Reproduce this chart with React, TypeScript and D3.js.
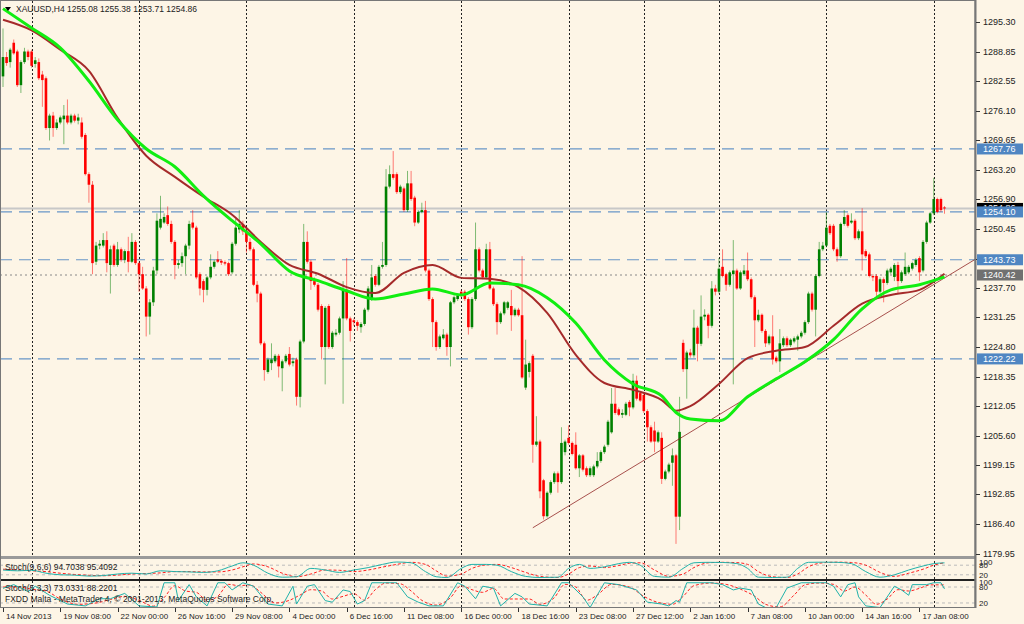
import * as d3 from "d3";

// ---- price data, H4 bars (index 0 = 14 Nov 2013) ----
const opens = [
  1283.5, 1287.7, 1286.6, 1290.8, 1288.9, 1281.6, 1286.6, 1288.9, 1288.9, 1286.2,
  1286.6, 1283.9, 1283.1, 1272.3, 1275.0, 1272.3, 1273.5, 1274.2, 1275.0, 1273.5,
  1275.0, 1273.9, 1273.5, 1270.8, 1262.3, 1260.0, 1243.3, 1246.8, 1246.8, 1248.0,
  1242.6, 1246.8, 1242.6, 1246.0, 1243.7, 1245.6, 1243.3, 1247.6, 1243.0, 1240.6,
  1237.5, 1231.4, 1234.5, 1241.4, 1250.7, 1251.8, 1253.4, 1251.5, 1247.6, 1242.6,
  1243.0, 1244.5, 1246.8, 1251.8, 1250.7, 1240.6, 1239.1, 1237.2, 1239.9, 1242.2,
  1243.8, 1243.5, 1243.2, 1243.0, 1241.0, 1247.2, 1250.3, 1251.5, 1249.9, 1247.6,
  1246.0, 1238.3, 1236.4, 1225.6, 1219.4, 1221.3, 1221.7, 1222.9, 1220.2, 1221.7,
  1223.3, 1221.3, 1222.1, 1214.0, 1226.0, 1247.6, 1243.3, 1239.1, 1238.3, 1233.7,
  1224.8, 1233.7, 1224.8, 1227.5, 1227.9, 1231.0, 1237.2, 1231.0, 1230.6, 1230.2,
  1229.1, 1229.8, 1232.9, 1235.2, 1240.2, 1238.3, 1242.2, 1242.6, 1259.6, 1262.3,
  1262.3, 1258.4, 1259.2, 1254.5, 1260.3, 1257.2, 1251.8, 1254.1, 1254.5, 1241.4,
  1235.2, 1230.2, 1224.8, 1226.7, 1227.5, 1224.8, 1234.5, 1235.2, 1236.8, 1236.8,
  1235.2, 1229.1, 1235.2, 1246.0, 1241.4, 1239.9, 1246.0, 1237.5, 1234.1, 1230.2,
  1232.1, 1233.3, 1233.7, 1231.7, 1232.9, 1231.7, 1216.0, 1219.4, 1222.9, 1203.6,
  1204.3, 1195.9, 1188.1, 1193.2, 1195.5, 1197.4, 1195.5, 1202.0, 1205.1, 1204.0,
  1203.6, 1198.5, 1201.3, 1198.5, 1197.0, 1197.0, 1198.9, 1200.1, 1202.0, 1203.6,
  1206.3, 1212.5, 1211.3, 1210.1, 1210.1, 1212.9, 1211.7, 1217.5, 1214.8, 1214.4,
  1210.9, 1207.4, 1206.7, 1204.3, 1205.1, 1196.2, 1197.8, 1199.7, 1201.3, 1188.0,
  1225.7, 1220.0, 1223.6, 1223.0, 1229.0, 1225.5, 1231.4, 1231.8, 1229.4, 1237.5,
  1236.8, 1242.2, 1240.6, 1238.3, 1240.6, 1241.4, 1237.5, 1240.6, 1241.4, 1239.5,
  1235.6, 1230.6, 1231.8, 1228.3, 1225.6, 1227.1, 1222.5, 1221.7, 1225.2, 1226.7,
  1225.2, 1226.0, 1226.4, 1227.1, 1227.9, 1230.2, 1236.4, 1232.9, 1240.2, 1246.0,
  1246.8, 1251.1, 1251.1, 1246.0, 1244.5, 1251.5, 1253.4, 1251.8, 1252.2, 1248.4,
  1249.9, 1245.6, 1244.9, 1240.2, 1240.2, 1236.8, 1239.5, 1238.7, 1241.0, 1240.0,
  1242.6, 1239.1, 1240.6, 1241.0, 1241.8, 1242.6, 1244.1, 1241.4, 1247.6, 1251.8,
  1253.8, 1256.9, 1256.9, 1255.08,
];
const highs = [
  1293.9, 1288.8, 1289.7, 1291.5, 1289.3, 1287.0, 1289.7, 1289.3, 1289.3, 1287.7,
  1287.4, 1284.7, 1283.5, 1275.4, 1275.8, 1274.2, 1275.0, 1277.3, 1278.5, 1275.4,
  1275.4, 1275.4, 1274.6, 1271.2, 1262.7, 1260.8, 1247.6, 1248.0, 1249.5, 1249.9,
  1246.8, 1247.2, 1247.6, 1246.4, 1246.0, 1248.7, 1249.5, 1248.0, 1243.3, 1242.2,
  1238.0, 1235.2, 1242.2, 1253.8, 1257.6, 1253.8, 1255.3, 1252.2, 1248.0, 1243.7,
  1245.3, 1247.2, 1252.2, 1254.5, 1251.1, 1241.0, 1239.5, 1240.2, 1244.9, 1243.7,
  1245.6, 1243.9, 1243.6, 1243.3, 1247.6, 1252.6, 1254.5, 1252.2, 1250.7, 1248.4,
  1246.4, 1239.1, 1236.8, 1226.0, 1222.5, 1225.6, 1223.3, 1223.3, 1222.1, 1223.3,
  1224.8, 1222.5, 1222.5, 1226.4, 1251.5, 1249.9, 1243.7, 1239.9, 1238.7, 1234.1,
  1233.7, 1234.1, 1228.3, 1228.7, 1231.4, 1239.1, 1244.1, 1231.4, 1231.0, 1230.6,
  1230.2, 1233.3, 1238.0, 1242.6, 1240.6, 1242.6, 1247.6, 1263.4, 1264.2, 1267.3,
  1262.7, 1260.0, 1259.6, 1263.0, 1263.0, 1257.6, 1254.5, 1256.1, 1256.5, 1241.8,
  1235.6, 1230.6, 1227.5, 1228.7, 1227.9, 1234.8, 1236.0, 1236.4, 1237.2, 1237.2,
  1235.6, 1235.6, 1251.8, 1246.4, 1241.8, 1247.2, 1247.6, 1237.9, 1234.5, 1232.5,
  1234.8, 1234.8, 1237.2, 1233.3, 1233.3, 1244.5, 1226.4, 1221.7, 1223.3, 1209.8,
  1204.7, 1196.2, 1193.5, 1195.9, 1197.8, 1197.8, 1207.4, 1204.7, 1207.8, 1204.3,
  1206.3, 1201.6, 1201.6, 1198.9, 1198.9, 1199.3, 1202.0, 1202.4, 1203.6, 1209.0,
  1215.9, 1215.9, 1211.7, 1211.3, 1212.9, 1213.3, 1219.0, 1218.6, 1215.2, 1214.8,
  1211.3, 1207.8, 1208.6, 1206.7, 1206.3, 1198.2, 1199.7, 1202.8, 1201.6, 1214.0,
  1226.4, 1224.0, 1224.4, 1232.9, 1229.4, 1236.0, 1233.0, 1232.1, 1239.1, 1238.3,
  1244.1, 1246.0, 1240.9, 1241.4, 1248.0, 1241.8, 1241.4, 1242.6, 1245.3, 1239.9,
  1236.0, 1232.9, 1232.1, 1228.7, 1227.5, 1231.7, 1222.9, 1228.7, 1227.1, 1227.1,
  1226.7, 1227.1, 1227.5, 1228.3, 1230.6, 1236.8, 1236.8, 1240.6, 1247.6, 1247.6,
  1254.1, 1251.5, 1251.5, 1246.4, 1251.8, 1254.5, 1253.8, 1253.8, 1252.6, 1250.3,
  1254.9, 1246.0, 1245.3, 1240.6, 1240.6, 1239.9, 1239.9, 1241.8, 1242.2, 1243.0,
  1243.3, 1241.4, 1245.3, 1242.6, 1243.3, 1244.1, 1244.5, 1248.0, 1252.2, 1254.1,
  1261.5, 1257.2, 1257.2, 1255.38,
];
const lows = [
  1281.2, 1285.8, 1285.4, 1288.2, 1281.2, 1279.9, 1286.2, 1287.0, 1285.4, 1285.4,
  1282.7, 1276.9, 1271.9, 1269.6, 1270.4, 1271.9, 1273.1, 1268.8, 1273.1, 1273.1,
  1273.5, 1273.1, 1270.0, 1262.0, 1256.1, 1240.6, 1242.6, 1246.0, 1246.4, 1241.0,
  1236.4, 1242.2, 1242.2, 1243.3, 1243.0, 1241.0, 1243.0, 1242.6, 1236.8, 1237.2,
  1227.1, 1227.5, 1233.7, 1240.6, 1250.3, 1251.5, 1251.1, 1247.2, 1239.5, 1241.8,
  1242.2, 1240.6, 1246.0, 1250.3, 1239.5, 1236.0, 1234.5, 1236.0, 1239.5, 1241.8,
  1243.0, 1242.6, 1242.5, 1240.2, 1240.6, 1246.8, 1249.5, 1249.1, 1245.3, 1245.6,
  1238.0, 1234.5, 1225.2, 1217.5, 1219.0, 1219.8, 1221.3, 1218.2, 1215.2, 1221.3,
  1220.6, 1220.6, 1212.1, 1211.7, 1225.6, 1242.9, 1237.2, 1237.9, 1232.5, 1222.1,
  1216.7, 1224.4, 1224.4, 1227.1, 1227.5, 1212.5, 1230.6, 1226.0, 1229.4, 1228.3,
  1227.9, 1229.4, 1232.5, 1234.8, 1237.9, 1238.0, 1241.8, 1242.2, 1259.2, 1261.1,
  1258.0, 1258.0, 1254.1, 1254.1, 1256.5, 1251.0, 1251.5, 1253.8, 1241.0, 1234.8,
  1224.8, 1224.0, 1224.4, 1226.4, 1222.9, 1220.6, 1234.1, 1234.8, 1235.6, 1234.8,
  1227.5, 1228.7, 1234.8, 1241.0, 1239.5, 1239.5, 1237.2, 1233.7, 1227.5, 1229.8,
  1231.7, 1232.9, 1228.3, 1231.4, 1231.4, 1217.9, 1215.5, 1218.2, 1199.7, 1203.2,
  1192.0, 1187.4, 1187.8, 1192.8, 1195.1, 1193.2, 1195.1, 1201.3, 1203.6, 1201.3,
  1198.2, 1196.6, 1197.8, 1196.6, 1196.6, 1196.6, 1198.5, 1199.7, 1201.6, 1203.2,
  1206.0, 1210.1, 1209.8, 1209.4, 1209.8, 1209.8, 1211.3, 1213.2, 1212.9, 1210.5,
  1204.3, 1204.0, 1202.0, 1204.0, 1195.1, 1195.9, 1197.4, 1194.7, 1182.1, 1185.1,
  1219.4, 1213.6, 1222.5, 1222.5, 1221.7, 1225.0, 1230.6, 1226.7, 1229.0, 1236.0,
  1236.4, 1239.9, 1237.0, 1237.9, 1216.7, 1237.2, 1237.2, 1240.2, 1239.1, 1235.2,
  1224.8, 1230.2, 1227.9, 1224.8, 1225.2, 1221.0, 1221.3, 1219.4, 1224.8, 1224.8,
  1224.8, 1225.6, 1224.0, 1226.7, 1227.5, 1229.8, 1232.5, 1227.1, 1239.9, 1245.6,
  1246.4, 1249.1, 1245.6, 1243.3, 1244.1, 1251.1, 1250.7, 1251.5, 1248.0, 1248.0,
  1241.4, 1244.1, 1239.9, 1239.1, 1235.6, 1236.4, 1234.5, 1238.3, 1240.6, 1239.1,
  1236.4, 1238.7, 1240.2, 1240.6, 1241.4, 1242.2, 1239.1, 1241.0, 1247.2, 1251.5,
  1253.4, 1253.8, 1254.1, 1253.71,
];
const closes = [
  1287.7, 1286.4, 1289.3, 1288.5, 1281.6, 1286.6, 1288.9, 1287.7, 1285.8, 1287.0,
  1283.1, 1282.7, 1272.3, 1275.0, 1272.3, 1273.5, 1274.6, 1275.0, 1273.5, 1275.0,
  1273.9, 1274.6, 1270.4, 1262.3, 1260.0, 1243.0, 1246.8, 1247.2, 1248.0, 1243.0,
  1246.0, 1242.6, 1246.0, 1243.7, 1245.6, 1243.3, 1247.6, 1243.0, 1240.6, 1237.5,
  1231.4, 1234.5, 1241.4, 1252.2, 1252.6, 1253.0, 1251.5, 1247.6, 1242.6, 1243.0,
  1244.5, 1246.8, 1251.5, 1250.7, 1239.9, 1237.5, 1237.2, 1239.9, 1242.2, 1243.3,
  1243.3, 1243.1, 1242.9, 1240.6, 1247.2, 1250.7, 1251.5, 1249.9, 1247.6, 1246.0,
  1238.3, 1236.4, 1225.6, 1219.8, 1222.1, 1222.1, 1222.9, 1220.6, 1221.7, 1222.9,
  1221.0, 1221.7, 1214.0, 1226.0, 1247.6, 1243.3, 1239.1, 1238.3, 1232.9, 1224.8,
  1233.3, 1224.8, 1227.9, 1227.9, 1231.0, 1237.2, 1231.0, 1228.3, 1230.2, 1229.4,
  1229.8, 1232.9, 1237.5, 1239.9, 1238.3, 1242.2, 1242.6, 1259.6, 1262.3, 1261.5,
  1258.4, 1259.6, 1254.5, 1260.3, 1256.9, 1251.8, 1254.1, 1254.5, 1241.4, 1235.2,
  1230.2, 1224.8, 1227.1, 1227.5, 1224.8, 1234.5, 1235.6, 1236.0, 1236.0, 1235.2,
  1229.1, 1235.2, 1246.0, 1241.4, 1239.9, 1246.0, 1237.5, 1234.1, 1230.2, 1232.1,
  1234.5, 1234.5, 1231.7, 1232.9, 1231.7, 1218.2, 1221.0, 1221.3, 1203.6, 1204.3,
  1193.5, 1188.1, 1193.2, 1195.5, 1197.4, 1195.5, 1204.0, 1204.3, 1204.0, 1201.6,
  1198.5, 1201.3, 1198.2, 1197.0, 1198.5, 1198.9, 1200.1, 1202.0, 1203.2, 1208.6,
  1212.5, 1210.5, 1210.1, 1210.5, 1212.5, 1211.7, 1217.5, 1213.6, 1213.2, 1210.9,
  1207.4, 1204.3, 1204.3, 1206.3, 1196.2, 1197.8, 1199.3, 1201.3, 1188.0, 1206.4,
  1220.0, 1223.6, 1223.0, 1229.0, 1225.5, 1231.4, 1231.8, 1229.4, 1237.5, 1236.8,
  1241.8, 1240.2, 1238.3, 1241.0, 1241.4, 1237.5, 1241.0, 1241.4, 1239.5, 1235.6,
  1230.6, 1231.8, 1228.3, 1225.6, 1227.1, 1222.1, 1221.7, 1225.6, 1226.7, 1225.2,
  1226.4, 1226.7, 1227.1, 1227.9, 1230.2, 1236.4, 1232.9, 1240.2, 1246.0, 1246.8,
  1250.7, 1249.5, 1246.0, 1244.5, 1251.5, 1253.0, 1251.1, 1252.2, 1248.4, 1249.9,
  1244.9, 1244.5, 1240.2, 1239.9, 1236.8, 1239.5, 1238.7, 1241.4, 1241.8, 1242.6,
  1239.1, 1241.0, 1242.2, 1242.2, 1243.0, 1243.7, 1241.0, 1247.6, 1251.8, 1253.8,
  1256.9, 1254.1, 1254.5, 1254.86,
];

// moving averages, sampled at bar indices
const maBars = [0, 8, 16, 24, 32, 40, 48, 56, 64, 72, 80, 88, 96, 104, 112, 120, 128, 136, 144, 152, 160, 168, 176, 184, 188, 192, 200, 208, 216, 224, 232, 240, 248, 256, 263];
const maFast = [1298.2, 1294.0, 1289.7, 1282.5, 1274.1, 1267.8, 1263.9, 1257.6, 1252.2, 1247.2, 1241.3, 1239.2, 1237.0, 1235.2, 1236.3, 1237.4, 1236.1, 1238.7, 1238.3, 1235.5, 1230.0, 1222.0, 1216.8, 1214.2, 1210.6, 1209.2, 1208.8, 1214.0, 1217.9, 1221.6, 1226.4, 1233.1, 1237.2, 1238.3, 1240.0];
const maSlow = [1295.8, 1293.5, 1289.3, 1284.7, 1274.5, 1266.3, 1261.7, 1257.4, 1253.5, 1247.6, 1242.6, 1240.7, 1237.8, 1236.5, 1240.9, 1242.6, 1239.8, 1239.6, 1237.8, 1232.2, 1223.1, 1217.0, 1215.5, 1213.3, 1211.0, 1212.0, 1216.8, 1222.4, 1224.0, 1224.8, 1229.4, 1234.2, 1236.1, 1237.2, 1240.7];

// trend line anchors [bar, price], drawn as a ray to the right
const trendAnchors = [[148, 1185.6], [200, 1210.1]];

const hLevels = [1267.76, 1254.1, 1243.73, 1222.22];
const dottedLevel = 1240.42;
const bidPrice = 1254.86;

const priceTicks = [1295.3, 1288.85, 1282.55, 1276.1, 1269.65, 1263.2, 1256.9, 1250.45, 1244.0, 1237.7, 1231.25, 1224.8, 1218.35, 1212.05, 1205.6, 1199.15, 1192.85, 1186.4, 1179.95];

const dateLabels = ["14 Nov 2013", "19 Nov 08:00", "22 Nov 00:00", "26 Nov 16:00", "29 Nov 08:00", "4 Dec 00:00", "6 Dec 16:00", "11 Dec 08:00", "16 Dec 00:00", "18 Dec 16:00", "23 Dec 08:00", "27 Dec 12:00", "2 Jan 16:00", "7 Jan 08:00", "10 Jan 00:00", "14 Jan 16:00", "17 Jan 08:00"];
const dateBars = [0, 16, 32, 48, 64, 80, 96, 112, 128, 144, 160, 176, 192, 208, 224, 240, 256];
const weekBars = [8, 38, 68, 98, 128, 158, 179, 200, 230, 260];

// Stoch(9,6,6) [bar, value]
const stochSlowMain = [[0, 50], [4, 45], [8, 48], [12, 30], [16, 20], [20, 18], [24, 12], [28, 15], [32, 25], [36, 30], [40, 25], [44, 45], [48, 40], [52, 38], [56, 35], [60, 45], [64, 75], [67, 95], [70, 80], [74, 30], [78, 5], [82, 8], [86, 60], [90, 50], [94, 35], [98, 50], [102, 65], [106, 85], [110, 100], [114, 95], [118, 40], [121, 8], [124, 3], [128, 60], [131, 85], [135, 85], [138, 80], [142, 40], [146, 10], [150, 3], [155, 5], [158, 60], [161, 85], [164, 60], [168, 70], [172, 90], [175, 98], [178, 80], [182, 10], [186, 5], [190, 60], [193, 95], [197, 98], [201, 97], [205, 90], [208, 60], [211, 5], [215, 3], [219, 5], [222, 60], [225, 98], [229, 99], [233, 98], [237, 90], [241, 40], [245, 5], [249, 20], [253, 50], [257, 75], [260, 90], [263, 94.7]];
const stochSlowSignal = [[0, 55], [4, 50], [8, 45], [12, 40], [16, 30], [20, 22], [24, 17], [28, 14], [32, 18], [36, 25], [40, 28], [44, 32], [48, 40], [52, 40], [56, 38], [60, 38], [64, 50], [67, 70], [70, 88], [74, 70], [78, 30], [82, 8], [86, 25], [90, 50], [94, 48], [98, 40], [102, 50], [106, 68], [110, 85], [114, 98], [118, 85], [121, 45], [124, 12], [128, 25], [131, 60], [135, 82], [138, 85], [142, 65], [146, 35], [150, 10], [155, 3], [158, 25], [161, 65], [164, 75], [168, 65], [172, 78], [175, 92], [178, 95], [182, 50], [186, 10], [190, 25], [193, 65], [197, 95], [201, 98], [205, 96], [208, 85], [211, 40], [215, 8], [219, 3], [222, 25], [225, 70], [229, 95], [233, 99], [237, 97], [241, 80], [245, 35], [249, 10], [253, 30], [257, 55], [260, 80], [263, 95.4]];

// Stoch(5,3,3) [bar, value]
const stochFastMain = [[0, 75], [3, 89], [7, 63], [9, 83], [13, 49], [18, 16], [23, 9], [27, 36], [30, 36], [34, 56], [38, 9], [43, 5], [45, 96], [48, 96], [49, 29], [52, 89], [54, 43], [57, 9], [60, 96], [62, 96], [64, 69], [67, 96], [70, 83], [74, 16], [78, 9], [81, 83], [82, 16], [85, 83], [87, 89], [90, 29], [92, 23], [95, 69], [97, 63], [99, 16], [101, 29], [103, 96], [106, 96], [110, 96], [113, 43], [116, 23], [119, 9], [123, 9], [127, 96], [129, 83], [132, 36], [134, 83], [137, 76], [139, 9], [143, 56], [145, 43], [147, 16], [152, 9], [156, 96], [158, 96], [162, 43], [164, 3], [168, 96], [172, 89], [177, 69], [180, 23], [184, 16], [186, 9], [188, 29], [189, 23], [191, 96], [198, 96], [201, 89], [204, 69], [206, 76], [209, 69], [211, 16], [213, 3], [216, 3], [219, 76], [223, 96], [226, 96], [230, 96], [232, 83], [234, 43], [236, 89], [238, 96], [239, 43], [241, 9], [245, 3], [249, 83], [251, 69], [253, 49], [254, 89], [258, 89], [260, 96], [262, 96], [263, 73]];
const stochFastSignal = [[0, 80], [4, 80], [8, 72], [12, 65], [16, 35], [21, 15], [26, 20], [30, 33], [34, 45], [38, 30], [42, 8], [45, 40], [48, 85], [51, 65], [54, 60], [57, 30], [60, 45], [63, 90], [66, 85], [69, 88], [72, 60], [76, 20], [80, 30], [83, 50], [86, 70], [89, 65], [92, 35], [95, 45], [98, 55], [101, 30], [104, 70], [107, 95], [111, 92], [114, 65], [117, 30], [121, 12], [125, 40], [128, 85], [131, 70], [134, 60], [137, 75], [140, 35], [144, 35], [147, 35], [150, 15], [154, 40], [157, 90], [160, 80], [163, 30], [166, 50], [170, 90], [175, 80], [179, 45], [183, 22], [187, 15], [190, 45], [193, 85], [198, 95], [202, 90], [206, 72], [210, 45], [213, 15], [217, 5], [221, 50], [224, 88], [228, 95], [232, 90], [235, 65], [238, 80], [241, 50], [244, 15], [247, 35], [250, 70], [253, 65], [256, 75], [259, 88], [263, 88.2]];

const BG = "#fdf5e6";
const BULL = "#008000";
const BEAR = "#ff0000";
const LEVEL_BLUE = "#4f86c2";
const FONT = "'Liberation Sans', Arial, sans-serif";

const PLOT_RIGHT = 975;
const MAIN_BOTTOM = 556;
const P1 = { top: 560, bottom: 578 };
const P2 = { top: 581, bottom: 607 };
const AXIS_FS = 9;

const fmt = (v: number) => v.toFixed(2);

export default function App() {
  const x = d3.scaleLinear().domain([0, 263]).range([3, 944.5]);
  const y = d3.scaleLinear().domain([1179.95, 1295.3]).range([553.8, 22.0]);
  const y1 = d3.scaleLinear().domain([0, 100]).range([578, 562]);
  const y2 = d3.scaleLinear().domain([0, 100]).range([608.3, 581.7]);

  const maLine = (vals: number[]) =>
    d3
      .line<number>()
      .x((_, i) => x(maBars[i]))
      .y((d) => y(d))
      .curve(d3.curveMonotoneX)(vals) ?? "";

  const stochLine = (pts: number[][], sy: d3.ScaleLinear<number, number>, curve: d3.CurveFactory) =>
    d3
      .line<number[]>()
      .x((d) => x(d[0]))
      .y((d) => sy(d[1]))
      .curve(curve)(pts) ?? "";

  const [t0, t1] = trendAnchors;
  const slope = (t1[1] - t0[1]) / (t1[0] - t0[0]);
  const trendEndBar = x.invert(PLOT_RIGHT);
  const trendEndPrice = t0[1] + slope * (trendEndBar - t0[0]);

  const bodyW = 2.6;
  const boxX = PLOT_RIGHT + 2;
  const boxW = 46;
  const labelX = PLOT_RIGHT + 8;

  return (
    <svg
      width={1024}
      height={624}
      style={{ position: "absolute", left: 0, top: 0, background: BG, fontFamily: FONT }}
    >
      <rect x={0} y={0} width={1024} height={624} fill={BG} />
      <defs>
        <clipPath id="mainClip">
          <rect x={1} y={1} width={PLOT_RIGHT - 1} height={MAIN_BOTTOM - 1} />
        </clipPath>
        <clipPath id="p1Clip">
          <rect x={1} y={P1.top} width={PLOT_RIGHT - 1} height={P1.bottom - P1.top} />
        </clipPath>
        <clipPath id="p2Clip">
          <rect x={1} y={P2.top} width={PLOT_RIGHT - 1} height={P2.bottom - P2.top} />
        </clipPath>
      </defs>

      {/* weekly separators */}
      {weekBars.map((b) => (
        <line key={"w" + b} x1={Math.round(x(b)) + 0.5} x2={Math.round(x(b)) + 0.5} y1={1} y2={P2.bottom} stroke="#222" strokeDasharray="2,2" />
      ))}

      <g clipPath="url(#mainClip)">
        {/* horizontal levels */}
        <line x1={0} x2={PLOT_RIGHT} y1={y(bidPrice)} y2={y(bidPrice)} stroke="#c8c8c8" strokeWidth={2} />
        {hLevels.map((p) => (
          <line key={"h" + p} x1={0} x2={PLOT_RIGHT} y1={y(p)} y2={y(p)} stroke={LEVEL_BLUE} strokeOpacity={0.85} strokeWidth={1.2} strokeDasharray="12,7" />
        ))}
        <line x1={0} x2={PLOT_RIGHT} y1={y(dottedLevel)} y2={y(dottedLevel)} stroke="#888" strokeDasharray="2,3" />

        {/* candles */}
        {closes.map((c, i) => {
          const o = opens[i];
          const up = c >= o;
          const col = up ? BULL : BEAR;
          const cx = x(i);
          const top = y(Math.max(o, c));
          const bot = y(Math.min(o, c));
          return (
            <g key={i}>
              <line x1={cx} x2={cx} y1={y(highs[i])} y2={y(lows[i])} stroke={col} strokeOpacity={0.5} strokeWidth={1} />
              <rect x={cx - bodyW / 2} y={top} width={bodyW} height={Math.max(1, bot - top)} fill={col} />
            </g>
          );
        })}

        {/* trend line */}
        <line x1={x(t0[0])} y1={y(t0[1])} x2={PLOT_RIGHT} y2={y(trendEndPrice)} stroke="#8b1a1a" strokeOpacity={0.75} strokeWidth={1} />

        {/* moving averages */}
        <path d={maLine(maSlow)} fill="none" stroke="#a52a2a" strokeWidth={2} />
        <path d={maLine(maFast)} fill="none" stroke="#11ee11" strokeWidth={3} />
      </g>

      {/* title */}
      <path d="M5,7 L11,7 L8,11 Z" fill="#000" />
      <text x={16} y={12} fontSize={8.5} fill="#222">XAUUSD,H4  1255.08 1255.38 1253.71 1254.86</text>

      {/* panel separators */}
      <rect x={0} y={MAIN_BOTTOM} width={PLOT_RIGHT} height={3} fill="#9a9a9a" />
      <rect x={0} y={579} width={PLOT_RIGHT} height={2} fill="#222" />

      {/* Stoch(9,6,6) */}
      {[80, 20].map((v) => (
        <line key={"l1" + v} x1={0} x2={PLOT_RIGHT} y1={y1(v)} y2={y1(v)} stroke="#bbb" strokeDasharray="3,3" />
      ))}
      <g clipPath="url(#p1Clip)">
        <path d={stochLine(stochSlowSignal, y1, d3.curveMonotoneX)} fill="none" stroke="#ff2020" strokeWidth={1} strokeDasharray="3,2" />
        <path d={stochLine(stochSlowMain, y1, d3.curveMonotoneX)} fill="none" stroke="#20b2aa" strokeWidth={1} />
      </g>
      <text x={5} y={570} fontSize={8.5} fill="#222">Stoch(9,6,6) 94.7038 95.4092</text>

      {/* Stoch(5,3,3) */}
      {[80, 20].map((v) => (
        <line key={"l2" + v} x1={0} x2={PLOT_RIGHT} y1={y2(v)} y2={y2(v)} stroke="#bbb" strokeDasharray="3,3" />
      ))}
      <g clipPath="url(#p2Clip)">
        <path d={stochLine(stochFastSignal, y2, d3.curveMonotoneX)} fill="none" stroke="#ff2020" strokeWidth={1} strokeDasharray="3,2" />
        <path d={stochLine(stochFastMain, y2, d3.curveLinear)} fill="none" stroke="#20b2aa" strokeWidth={1} />
      </g>
      <text x={5} y={591} fontSize={8.5} fill="#222">Stoch(5,3,3) 73.0331 88.2201</text>
      <text x={5} y={602} fontSize={8.5} fill="#222">FXDD Malta - MetaTrader 4, © 2001-2013, MetaQuotes Software Corp.</text>

      {/* frame */}
      <rect x={0.5} y={0.5} width={PLOT_RIGHT - 0.5} height={P2.bottom} fill="none" stroke="#777" />
      <line x1={PLOT_RIGHT + 0.5} x2={PLOT_RIGHT + 0.5} y1={0} y2={P2.bottom + 1} stroke="#777" strokeWidth={2} />

      {/* price axis */}
      {priceTicks.map((p) => (
        <g key={"t" + p}>
          <line x1={PLOT_RIGHT + 1} x2={PLOT_RIGHT + 5} y1={Math.round(y(p)) + 0.5} y2={Math.round(y(p)) + 0.5} stroke="#333" />
          <text x={labelX} y={y(p) + 3} fontSize={AXIS_FS} fill="#222">{fmt(p)}</text>
        </g>
      ))}
      {/* level labels */}
      <rect x={boxX} y={y(bidPrice) - 5.5} width={boxW} height={11} fill="#000" />
      <text x={labelX} y={y(bidPrice) + 3} fontSize={AXIS_FS} fill="#fff">{fmt(bidPrice)}</text>
      {hLevels.map((p) => (
        <g key={"b" + p}>
          <rect x={boxX} y={y(p) - 5.5} width={boxW} height={11} fill={LEVEL_BLUE} />
          <text x={labelX} y={y(p) + 3} fontSize={AXIS_FS} fill="#fff">{fmt(p)}</text>
        </g>
      ))}
      <rect x={boxX} y={y(dottedLevel) - 5.5} width={boxW} height={11} fill="#707070" />
      <text x={labelX} y={y(dottedLevel) + 3} fontSize={AXIS_FS} fill="#fff">{fmt(dottedLevel)}</text>

      {/* stoch axes */}
      {[
        { s: y1, labels: [100, 80, 20] },
        { s: y2, labels: [100, 80, 20] },
      ].map((a, k) =>
        a.labels.map((v) => (
          <text key={"s" + k + v} x={PLOT_RIGHT + 4} y={a.s(v) + 3} fontSize={8} fill="#222">{v}</text>
        ))
      )}

      {/* time axis */}
      {dateBars.map((b, i) => (
        <g key={"d" + b}>
          <line x1={Math.round(x(b)) + 0.5} x2={Math.round(x(b)) + 0.5} y1={P2.bottom + 1} y2={P2.bottom + 5} stroke="#333" />
          <text x={x(b) + 3} y={619} fontSize={8} fill="#222">{dateLabels[i]}</text>
        </g>
      ))}
    </svg>
  );
}
